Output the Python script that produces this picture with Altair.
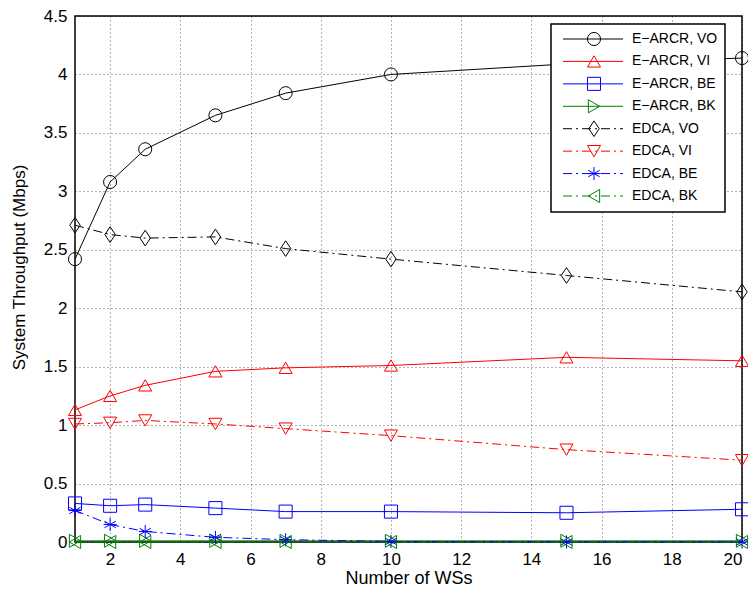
import altair as alt
import pandas as pd

# ---------------- data ----------------
x_ws = [1, 2, 3, 5, 7, 10, 15, 20]

earcr_vo = [2.42, 3.08, 3.36, 3.65, 3.84, 4.00, 4.09, 4.14]
earcr_vi = [1.13, 1.25, 1.34, 1.46, 1.49, 1.51, 1.58, 1.55]
earcr_be = [0.33, 0.31, 0.32, 0.29, 0.26, 0.26, 0.25, 0.28]
earcr_bk = [0.01, 0.01, 0.01, 0.01, 0.01, 0.01, 0.01, 0.01]
edca_vo = [2.71, 2.63, 2.60, 2.61, 2.51, 2.42, 2.28, 2.14]
edca_vi = [1.01, 1.02, 1.04, 1.01, 0.97, 0.91, 0.79, 0.70]
edca_be = [0.27, 0.15, 0.09, 0.04, 0.02, 0.005, 0.0, 0.0]
edca_bk = [0.0, 0.0, 0.0, 0.0, 0.0, 0.0, 0.0, 0.0]

series_labels = ["E\u2212ARCR, VO", "E\u2212ARCR, VI", "E\u2212ARCR, BE", "E\u2212ARCR, BK",
                 "EDCA, VO", "EDCA, VI", "EDCA, BE", "EDCA, BK"]
series_values = [earcr_vo, earcr_vi, earcr_be, earcr_bk, edca_vo, edca_vi, edca_be, edca_bk]
series_colors = ["#000000", "#ff0000", "#0000ff", "#008000",
                 "#000000", "#ff0000", "#0000ff", "#008000"]
DIAMOND = "M0,-1.2L0.8,0L0,1.2L-0.8,0Z"
ASTERISK = "M0,-1L0,1M-0.87,-0.5L0.87,0.5M-0.87,0.5L0.87,-0.5M-1,0L1,0"
series_shapes = ["circle", "triangle-up", "square", "triangle-right",
                 DIAMOND, "triangle-down", ASTERISK, "triangle-left"]
series_dashed = [False, False, False, False, True, True, True, True]

rows = []
for i, (lab, vals) in enumerate(zip(series_labels, series_values)):
    for xv, yv in zip(x_ws, vals):
        rows.append({"series": lab, "x": xv, "y": yv, "color": series_colors[i],
                     "shape": series_shapes[i], "dashed": series_dashed[i], "order": i})
df = pd.DataFrame(rows)

leg = pd.DataFrame({"label": series_labels, "color": series_colors, "shape": series_shapes,
                    "dashed": series_dashed, "row": list(range(len(series_labels)))})

DASHDOT = [9, 4, 2, 4]

# ---------------- main plot ----------------
x_enc = alt.X("x:Q", scale=alt.Scale(domain=[1, 20], nice=False, zero=False),
              axis=alt.Axis(values=[2, 4, 6, 8, 10, 12, 14, 16, 18, 20],
                            title="Number of WSs", labelPadding=9, titlePadding=2,
                            titleFontSize=18))
y_enc = alt.Y("y:Q", scale=alt.Scale(domain=[0, 4.5], nice=False),
              axis=alt.Axis(values=[0, 0.5, 1, 1.5, 2, 2.5, 3, 3.5, 4, 4.5], format="~g",
                            title="System Throughput (Mbps)", labelPadding=8, titlePadding=15,
                            titleFontSize=17, titleY=251, labelOverlap=False))
col = alt.Color("color:N", scale=None)

base = alt.Chart(df)
lines_solid = base.transform_filter("!datum.dashed").mark_line(strokeWidth=1).encode(
    x=x_enc, y=y_enc, color=col, detail="series:N")
lines_dash = base.transform_filter("datum.dashed").mark_line(strokeWidth=1, strokeDash=DASHDOT).encode(
    x=x_enc, y=y_enc, color=col, detail="series:N")
points = base.mark_point(filled=False, size=170, strokeWidth=1, opacity=1).encode(
    x=x_enc, y=y_enc, color=col, shape=alt.Shape("shape:N", scale=None))

main = alt.layer(lines_solid, lines_dash, points)

# ---------------- legend ----------------
row_y = alt.Y("row:Q", scale=alt.Scale(domain=[0, 7], range=[23, 180]), axis=None)
box = alt.Chart(pd.DataFrame({"a": [0]})).mark_rect(fill="white", stroke="black", strokeWidth=1.5).encode(
    x=alt.value(476), x2=alt.value(650), y=alt.value(8), y2=alt.value(196))
lbase = alt.Chart(leg)
leg_solid = lbase.transform_filter("!datum.dashed").mark_rule(strokeWidth=1).encode(
    x=alt.value(488), x2=alt.value(548), y=row_y, color=col)
leg_dash = lbase.transform_filter("datum.dashed").mark_rule(strokeWidth=1, strokeDash=DASHDOT).encode(
    x=alt.value(488), x2=alt.value(548), y=row_y, color=col)
leg_pts = lbase.mark_point(filled=False, size=170, strokeWidth=1, opacity=1).encode(
    x=alt.value(519), y=row_y, color=col, shape=alt.Shape("shape:N", scale=None))
leg_txt = lbase.mark_text(align="left", baseline="middle", fontSize=14,
                          font="Liberation Sans", color="black").encode(
    x=alt.value(557), y=row_y, text="label:N")

legend = alt.layer(box, leg_solid, leg_dash, leg_pts, leg_txt)

chart = alt.layer(main, legend).resolve_scale(y="independent").properties(
    width=667, height=526,
    autosize=alt.AutoSizeParams(type="none"),
    padding={"left": 67, "top": 8, "right": 6, "bottom": 47},
).configure_view(
    stroke="black", strokeWidth=1.5
).configure_axis(
    labelFont="Liberation Sans", titleFont="Liberation Sans",
    labelFontSize=17, titleFontWeight="normal",
    labelColor="#000000", titleColor="#000000",
    domain=False, ticks=False,
    grid=True, gridColor="#000000", gridDash=[1, 3], gridOpacity=0.6, gridWidth=1,
)

chart.save("out.html", embed_options={"renderer": "svg", "actions": False})
